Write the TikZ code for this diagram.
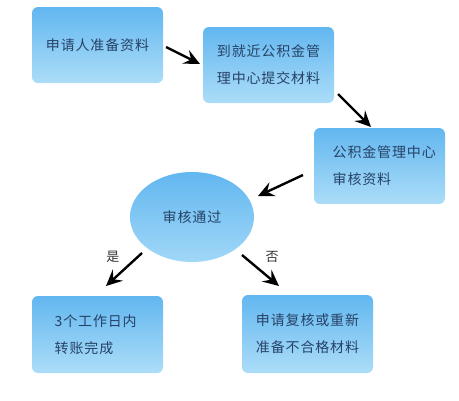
\documentclass[tikz,border=0pt]{standalone}
\usepackage{fontspec}
\setmainfont{Noto Sans CJK SC}[LetterSpace=6]
\usetikzlibrary{arrows.meta,shapes.geometric}
\definecolor{boxtop}{RGB}{98,183,240}
\definecolor{boxbot}{RGB}{172,221,248}
\definecolor{txt}{RGB}{38,66,102}
\tikzset{
  stepbox/.style={rounded corners=6pt, top color=boxtop, bottom color=boxbot, draw=none,
    minimum width=131pt, inner sep=0pt, align=left, text=txt,
    font=\fontsize{14pt}{27pt}\selectfont},
  decision/.style={ellipse, top color=boxtop, bottom color=boxbot!85!boxtop, draw=none,
    minimum width=124pt, minimum height=90pt, inner sep=0pt, text=txt,
    font=\fontsize{14pt}{27pt}\selectfont},
  flow/.style={line width=2.4pt, -{Stealth[length=16pt,width=15pt,inset=6pt]}},
  lbl/.style={font=\fontsize{13pt}{14pt}\selectfont, text=black!80}
}
\begin{document}
\begin{tikzpicture}[x=1pt,y=-1pt]
\useasboundingbox (0,0) rectangle (459,400);
\node[stepbox, minimum height=76pt] (b1) at (97.5,45) {申请人准备资料};
\node[stepbox, minimum height=76pt] (b2) at (268.5,65) {到就近公积金管\\理中心提交材料};
\node[stepbox, minimum height=76pt] (b3) at (379.5,166) {\hspace*{10pt}公积金管理中心\\\hspace*{10pt}审核资料\hspace*{45pt}};
\node[decision] (d) at (192,217) {审核通过};
\node[stepbox, minimum height=77pt] (b4) at (97.5,334.5) {3个工作日内\\转账完成\hspace*{27pt}};
\node[stepbox, minimum height=78pt] (b5) at (307.5,334) {申请复核或重新\\准备不合格材料};
\coordinate (a1s) at (166,47); \coordinate (a1e) at (200,64);
\coordinate (a2s) at (338,94); \coordinate (a2e) at (371,127);
\coordinate (a3s) at (303,175); \coordinate (a3e) at (258,196);
\coordinate (a4s) at (142,253); \coordinate (a4e) at (106,286);
\coordinate (a5s) at (242,255); \coordinate (a5e) at (279,286);
\draw[flow] (a1s) -- (a1e);
\draw[flow] (a2s) -- (a2e);
\draw[flow] (a3s) -- (a3e);
\draw[flow] (a4s) -- (a4e);
\draw[flow] (a5s) -- (a5e);
\node[lbl] (yes) at (113,257) {是};
\node[lbl] (no) at (272,257) {否};
\end{tikzpicture}
\end{document}
